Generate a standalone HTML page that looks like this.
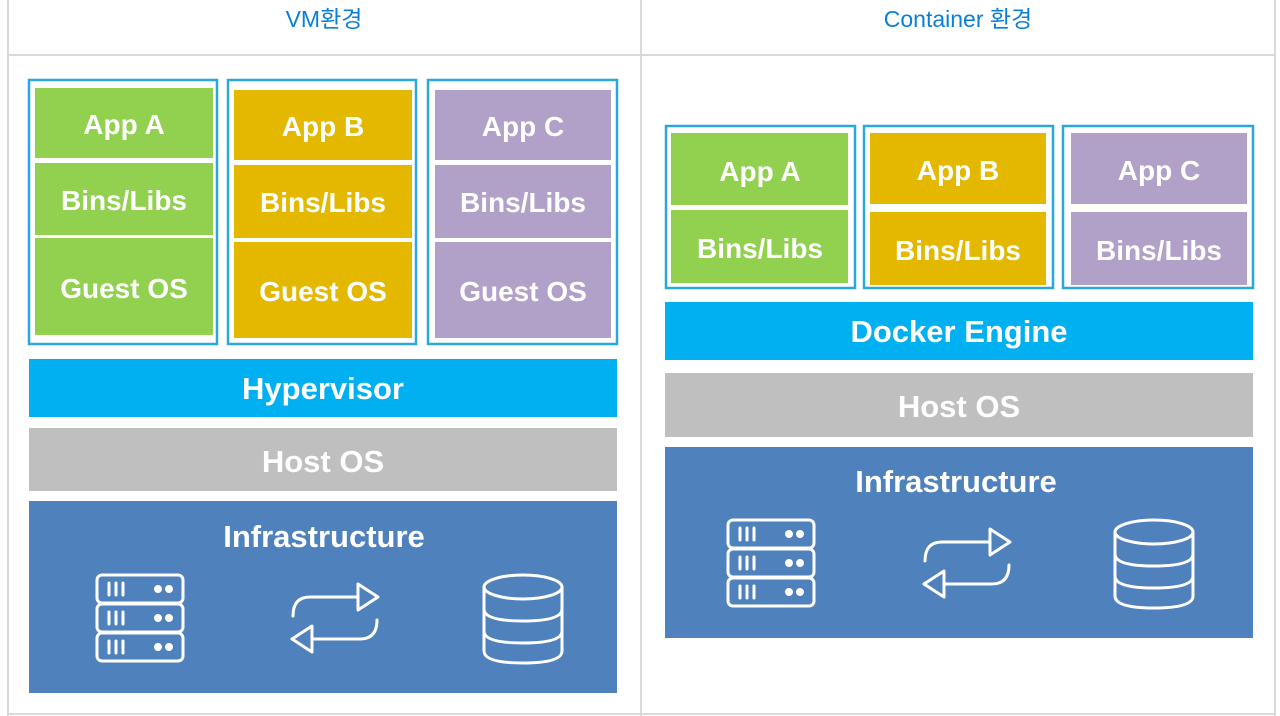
<!DOCTYPE html>
<html><head><meta charset="utf-8">
<style>
html,body{margin:0;padding:0;background:#fff;}
svg{display:block;}
.t{font-family:"Liberation Sans","Noto Sans CJK KR",sans-serif;font-weight:bold;fill:#fff;font-size:28px;text-anchor:middle;}
.b{font-size:31px;}
.h{font-family:"Liberation Sans","Noto Sans CJK KR",sans-serif;fill:#0a7fd8;font-size:23px;text-anchor:middle;}
.ic{fill:none;stroke:#fff;stroke-width:3;stroke-linejoin:round;stroke-linecap:round;}
</style></head><body>
<svg width="1280" height="716" viewBox="0 0 1280 716" xmlns="http://www.w3.org/2000/svg">
<defs>
<g id="srv" class="ic">
  <rect x="2" y="2" width="86" height="28" rx="5"/>
  <rect x="2" y="31" width="86" height="28" rx="5"/>
  <rect x="2" y="60" width="86" height="28" rx="5"/>
  <path d="M14 10v12M21 10v12M28 10v12M14 39v12M21 39v12M28 39v12M14 68v12M21 68v12M28 68v12"/>
  <circle cx="63" cy="16" r="2.5" fill="#fff"/><circle cx="74" cy="16" r="2.5" fill="#fff"/>
  <circle cx="63" cy="45" r="2.5" fill="#fff"/><circle cx="74" cy="45" r="2.5" fill="#fff"/>
  <circle cx="63" cy="74" r="2.5" fill="#fff"/><circle cx="74" cy="74" r="2.5" fill="#fff"/>
</g>
<g id="arr" class="ic">
  <path d="M3 40 Q3 21 20 21 L68 21"/>
  <path d="M68 8 L88 21 L68 34 Z"/>
  <path d="M87 44 Q87 63 70 63 L22 63"/>
  <path d="M22 50 L2 63 L22 76 Z"/>
</g>
<g id="db" class="ic">
  <ellipse cx="41" cy="14" rx="39" ry="12"/>
  <path d="M2 14 V78 Q2 90 41 90 Q80 90 80 78 V14"/>
  <path d="M2 36 Q2 48 41 48 Q80 48 80 36"/>
  <path d="M2 58 Q2 70 41 70 Q80 70 80 58"/>
</g>
</defs>

<g stroke="#d9d9d9" stroke-width="2" fill="none">
  <line x1="8" y1="0" x2="8" y2="716"/>
  <line x1="641" y1="0" x2="641" y2="716"/>
  <line x1="1275" y1="0" x2="1275" y2="716"/>
  <line x1="8" y1="55" x2="1275" y2="55"/>
  <line x1="8" y1="714" x2="1275" y2="714"/>
</g>
<text class="h" x="324" y="27">VM환경</text>
<text class="h" x="958" y="27">Container 환경</text>

<g stroke="#2aa8dc" stroke-width="2.5" fill="none">
  <rect x="29" y="80" width="188" height="264"/>
  <rect x="228" y="80" width="188" height="264"/>
  <rect x="428" y="80" width="189" height="264"/>
</g>
<rect x="35" y="88" width="178" height="70" fill="#92d050"/>
<rect x="35" y="163" width="178" height="72" fill="#92d050"/>
<rect x="35" y="238" width="178" height="97" fill="#92d050"/>
<rect x="234" y="90" width="178" height="70" fill="#e5b800"/>
<rect x="234" y="165" width="178" height="73" fill="#e5b800"/>
<rect x="234" y="242" width="178" height="96" fill="#e5b800"/>
<rect x="435" y="90" width="176" height="70" fill="#b1a0c7"/>
<rect x="435" y="165" width="176" height="73" fill="#b1a0c7"/>
<rect x="435" y="242" width="176" height="96" fill="#b1a0c7"/>
<text class="t" x="124" y="134">App A</text>
<text class="t" x="124" y="210">Bins/Libs</text>
<text class="t" x="124" y="298">Guest OS</text>
<text class="t" x="323" y="136">App B</text>
<text class="t" x="323" y="212">Bins/Libs</text>
<text class="t" x="323" y="301">Guest OS</text>
<text class="t" x="523" y="136">App C</text>
<text class="t" x="523" y="212">Bins/Libs</text>
<text class="t" x="523" y="301">Guest OS</text>

<rect x="29" y="359" width="588" height="58" fill="#00b0f0"/>
<text class="t b" x="323" y="399">Hypervisor</text>
<rect x="29" y="428" width="588" height="63" fill="#bfbfbf"/>
<text class="t b" x="323" y="472">Host OS</text>
<rect x="29" y="501" width="588" height="192" fill="#4f81bd"/>
<text class="t b" x="324" y="547">Infrastructure</text>
<use href="#srv" x="95" y="573"/>
<use href="#arr" x="290" y="576"/>
<use href="#db" x="482" y="573"/>

<g stroke="#2aa8dc" stroke-width="2.5" fill="none">
  <rect x="666" y="126" width="189" height="162"/>
  <rect x="864" y="126" width="189" height="162"/>
  <rect x="1063" y="126" width="190" height="162"/>
</g>
<rect x="671" y="133" width="177" height="72" fill="#92d050"/>
<rect x="671" y="210" width="177" height="73" fill="#92d050"/>
<rect x="870" y="133" width="176" height="71" fill="#e5b800"/>
<rect x="870" y="212" width="176" height="73" fill="#e5b800"/>
<rect x="1071" y="133" width="176" height="71" fill="#b1a0c7"/>
<rect x="1071" y="212" width="176" height="73" fill="#b1a0c7"/>
<text class="t" x="760" y="181">App A</text>
<text class="t" x="760" y="258">Bins/Libs</text>
<text class="t" x="958" y="180">App B</text>
<text class="t" x="958" y="260">Bins/Libs</text>
<text class="t" x="1159" y="180">App C</text>
<text class="t" x="1159" y="260">Bins/Libs</text>

<rect x="665" y="302" width="588" height="58" fill="#00b0f0"/>
<text class="t b" x="959" y="342">Docker Engine</text>
<rect x="665" y="373" width="588" height="64" fill="#bfbfbf"/>
<text class="t b" x="959" y="417">Host OS</text>
<rect x="665" y="447" width="588" height="191" fill="#4f81bd"/>
<text class="t b" x="956" y="492">Infrastructure</text>
<use href="#srv" x="726" y="518"/>
<use href="#arr" x="922" y="521"/>
<use href="#db" x="1113" y="518"/>
</svg>
</body></html>
